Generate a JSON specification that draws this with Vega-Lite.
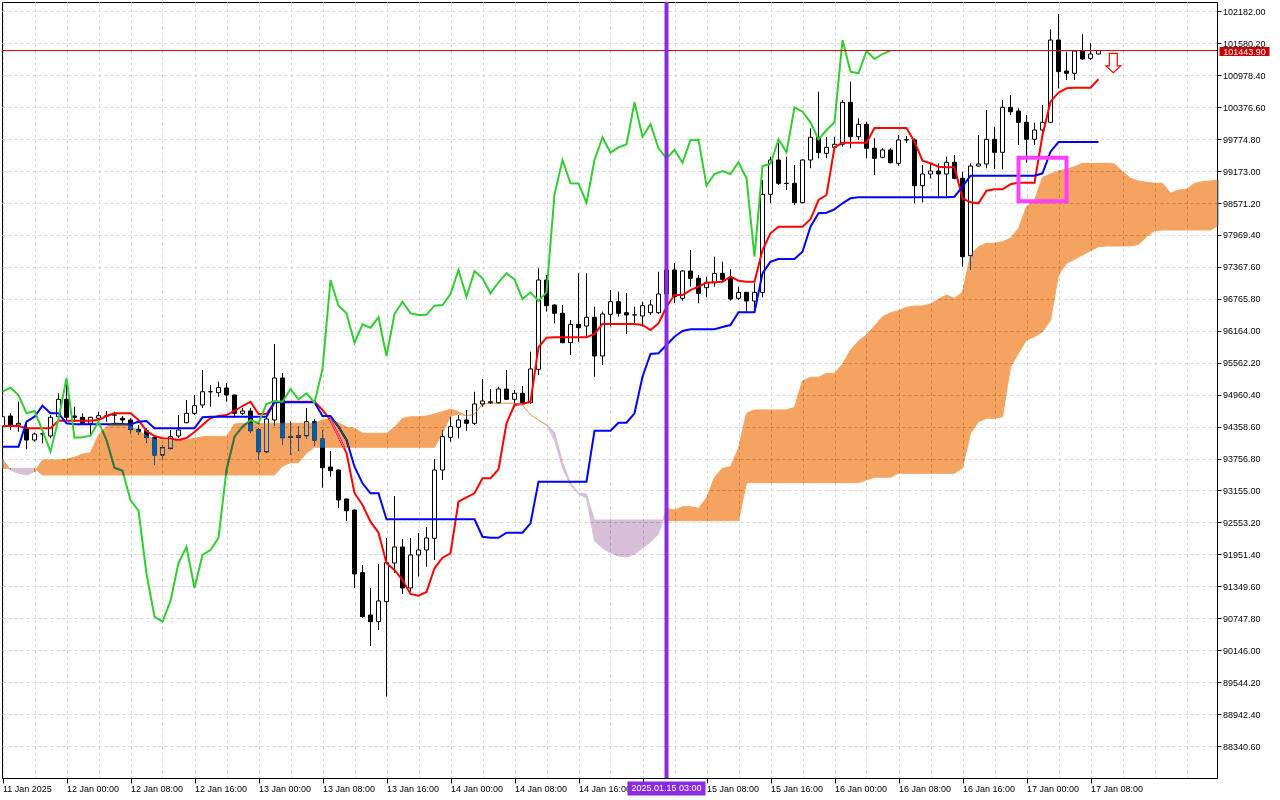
{
  "$schema": "https://vega.github.io/schema/vega-lite/v6.json",
  "width": 1215,
  "height": 776,
  "autosize": {"type": "none"},
  "padding": {"left": 2, "top": 2, "right": 63, "bottom": 22},
  "background": "white",
  "config": {
    "view": {"stroke": "black", "strokeWidth": 1},
    "axis": {"labelFont": "Liberation Sans"}
  },
  "resolve": {"axis": {"x": "independent", "y": "independent"}},
  "datasets": {
    "bars": [
      {"t":"2025-01-11T16:00","open":94357,"high":94634,"low":94295,"close":94545,"tenkan":94370,"kijun":93980},
      {"t":"2025-01-11T17:00","open":94558,"high":94609,"low":94295,"close":94389,"tenkan":94370,"kijun":93980},
      {"t":"2025-01-11T18:00","open":94389,"high":94828,"low":94263,"close":94421,"tenkan":94370,"kijun":93980},
      {"t":"2025-01-11T19:00","open":94327,"high":94421,"low":93931,"close":94106,"tenkan":94327,"kijun":94451},
      {"t":"2025-01-11T20:00","open":94106,"high":94244,"low":94074,"close":94219,"tenkan":94327,"kijun":94545},
      {"t":"2025-01-11T21:00","open":94219,"high":94263,"low":94044,"close":94225,"tenkan":94327,"kijun":94753},
      {"t":"2025-01-11T22:00","open":94182,"high":94577,"low":94138,"close":94534,"tenkan":94327,"kijun":94609},
      {"t":"2025-01-11T23:00","open":94545,"high":94986,"low":94483,"close":94873,"tenkan":94470,"kijun":94609},
      {"t":"2025-01-12T00:00","open":94873,"high":95269,"low":94483,"close":94534,"tenkan":94470,"kijun":94421},
      {"t":"2025-01-12T01:00","open":94558,"high":94734,"low":94451,"close":94534,"tenkan":94470,"kijun":94402},
      {"t":"2025-01-12T02:00","open":94534,"high":94609,"low":94389,"close":94421,"tenkan":94470,"kijun":94402},
      {"t":"2025-01-12T03:00","open":94421,"high":94545,"low":94219,"close":94534,"tenkan":94470,"kijun":94402},
      {"t":"2025-01-12T04:00","open":94515,"high":94640,"low":94421,"close":94564,"tenkan":94483,"kijun":94402},
      {"t":"2025-01-12T05:00","open":94558,"high":94653,"low":94451,"close":94560,"tenkan":94558,"kijun":94402},
      {"t":"2025-01-12T06:00","open":94577,"high":94640,"low":94421,"close":94575,"tenkan":94609,"kijun":94402},
      {"t":"2025-01-12T07:00","open":94515,"high":94558,"low":94389,"close":94483,"tenkan":94609,"kijun":94402},
      {"t":"2025-01-12T08:00","open":94483,"high":94515,"low":94219,"close":94308,"tenkan":94609,"kijun":94402},
      {"t":"2025-01-12T09:00","open":94308,"high":94389,"low":94201,"close":94263,"tenkan":94483,"kijun":94451},
      {"t":"2025-01-12T10:00","open":94282,"high":94327,"low":94056,"close":94157,"tenkan":94276,"kijun":94464},
      {"t":"2025-01-12T11:00","open":94150,"high":94160,"low":93635,"close":93824,"tenkan":94182,"kijun":94327},
      {"t":"2025-01-12T12:00","open":93824,"high":94012,"low":93743,"close":93961,"tenkan":94138,"kijun":94327},
      {"t":"2025-01-12T13:00","open":93950,"high":94295,"low":93931,"close":94169,"tenkan":94135,"kijun":94327},
      {"t":"2025-01-12T14:00","open":94182,"high":94577,"low":94138,"close":94295,"tenkan":94106,"kijun":94327},
      {"t":"2025-01-12T15:00","open":94432,"high":94860,"low":94421,"close":94609,"tenkan":94144,"kijun":94327},
      {"t":"2025-01-12T16:00","open":94609,"high":94954,"low":94577,"close":94753,"tenkan":94257,"kijun":94327},
      {"t":"2025-01-12T17:00","open":94766,"high":95425,"low":94709,"close":95016,"tenkan":94389,"kijun":94534},
      {"t":"2025-01-12T18:00","open":95016,"high":95143,"low":94734,"close":95016,"tenkan":94521,"kijun":94545},
      {"t":"2025-01-12T19:00","open":94998,"high":95205,"low":94922,"close":95092,"tenkan":94558,"kijun":94545},
      {"t":"2025-01-12T20:00","open":95086,"high":95180,"low":94828,"close":94954,"tenkan":94577,"kijun":94545},
      {"t":"2025-01-12T21:00","open":94954,"high":94960,"low":94521,"close":94609,"tenkan":94653,"kijun":94545},
      {"t":"2025-01-12T22:00","open":94609,"high":94709,"low":94577,"close":94653,"tenkan":94747,"kijun":94545},
      {"t":"2025-01-12T23:00","open":94653,"high":94709,"low":94238,"close":94282,"tenkan":94828,"kijun":94545},
      {"t":"2025-01-13T00:00","open":94295,"high":94332,"low":93730,"close":93886,"tenkan":94596,"kijun":94545},
      {"t":"2025-01-13T01:00","open":93886,"high":94540,"low":93870,"close":94502,"tenkan":94596,"kijun":94545},
      {"t":"2025-01-13T02:00","open":94483,"high":95915,"low":94370,"close":95275,"tenkan":94817,"kijun":94817},
      {"t":"2025-01-13T03:00","open":95275,"high":95369,"low":94012,"close":94150,"tenkan":94828,"kijun":94817},
      {"t":"2025-01-13T04:00","open":94163,"high":94451,"low":93824,"close":94160,"tenkan":94828,"kijun":94817},
      {"t":"2025-01-13T05:00","open":94157,"high":94370,"low":93905,"close":94187,"tenkan":94828,"kijun":94817},
      {"t":"2025-01-13T06:00","open":94187,"high":94709,"low":94125,"close":94451,"tenkan":94828,"kijun":94817},
      {"t":"2025-01-13T07:00","open":94451,"high":94502,"low":93993,"close":94106,"tenkan":94828,"kijun":94817},
      {"t":"2025-01-13T08:00","open":94125,"high":94295,"low":93208,"close":93584,"tenkan":94672,"kijun":94558},
      {"t":"2025-01-13T09:00","open":93598,"high":93899,"low":93415,"close":93528,"tenkan":94483,"kijun":94558},
      {"t":"2025-01-13T10:00","open":93541,"high":93550,"low":92825,"close":92976,"tenkan":94182,"kijun":94357},
      {"t":"2025-01-13T11:00","open":92995,"high":93000,"low":92580,"close":92774,"tenkan":93861,"kijun":94106},
      {"t":"2025-01-13T12:00","open":92787,"high":92795,"low":91318,"close":91582,"tenkan":93108,"kijun":93603},
      {"t":"2025-01-13T13:00","open":91606,"high":91751,"low":90752,"close":90777,"tenkan":92882,"kijun":93290},
      {"t":"2025-01-13T14:00","open":90809,"high":91318,"low":90225,"close":90683,"tenkan":92567,"kijun":93102},
      {"t":"2025-01-13T15:00","open":90683,"high":91770,"low":90526,"close":91073,"tenkan":92360,"kijun":93102},
      {"t":"2025-01-13T16:00","open":91060,"high":92260,"low":89270,"close":91794,"tenkan":91783,"kijun":92612},
      {"t":"2025-01-13T17:00","open":91789,"high":93051,"low":91600,"close":92090,"tenkan":91657,"kijun":92612},
      {"t":"2025-01-13T18:00","open":92090,"high":92241,"low":91205,"close":91318,"tenkan":91468,"kijun":92612},
      {"t":"2025-01-13T19:00","open":91318,"high":92260,"low":91248,"close":91940,"tenkan":91205,"kijun":92612},
      {"t":"2025-01-13T20:00","open":91940,"high":92354,"low":91531,"close":92034,"tenkan":91173,"kijun":92612},
      {"t":"2025-01-13T21:00","open":92034,"high":92467,"low":91719,"close":92260,"tenkan":91242,"kijun":92612},
      {"t":"2025-01-13T22:00","open":92254,"high":93748,"low":91845,"close":93541,"tenkan":91689,"kijun":92612},
      {"t":"2025-01-13T23:00","open":93541,"high":94295,"low":93353,"close":94169,"tenkan":91889,"kijun":92612},
      {"t":"2025-01-14T00:00","open":94157,"high":94545,"low":94074,"close":94357,"tenkan":91972,"kijun":92612},
      {"t":"2025-01-14T01:00","open":94346,"high":94577,"low":94138,"close":94483,"tenkan":92944,"kijun":92612},
      {"t":"2025-01-14T02:00","open":94483,"high":94672,"low":94282,"close":94421,"tenkan":93027,"kijun":92612},
      {"t":"2025-01-14T03:00","open":94421,"high":95016,"low":94389,"close":94785,"tenkan":93102,"kijun":92612},
      {"t":"2025-01-14T04:00","open":94785,"high":95256,"low":94734,"close":94841,"tenkan":93385,"kijun":92284},
      {"t":"2025-01-14T05:00","open":94809,"high":95067,"low":94785,"close":94828,"tenkan":93385,"kijun":92265},
      {"t":"2025-01-14T06:00","open":94809,"high":95111,"low":94785,"close":95067,"tenkan":93554,"kijun":92265},
      {"t":"2025-01-14T07:00","open":95067,"high":95425,"low":94860,"close":94873,"tenkan":94421,"kijun":92360},
      {"t":"2025-01-14T08:00","open":94873,"high":95048,"low":94798,"close":94986,"tenkan":94766,"kijun":92360},
      {"t":"2025-01-14T09:00","open":94986,"high":95124,"low":94798,"close":94809,"tenkan":94785,"kijun":92360},
      {"t":"2025-01-14T10:00","open":94809,"high":95770,"low":94785,"close":95444,"tenkan":94828,"kijun":92537},
      {"t":"2025-01-14T11:00","open":95438,"high":97341,"low":95331,"close":97121,"tenkan":95853,"kijun":93321},
      {"t":"2025-01-14T12:00","open":97121,"high":97215,"low":96524,"close":96637,"tenkan":96034,"kijun":93321},
      {"t":"2025-01-14T13:00","open":96650,"high":96660,"low":96305,"close":96494,"tenkan":96041,"kijun":93321},
      {"t":"2025-01-14T14:00","open":96494,"high":96650,"low":95928,"close":95940,"tenkan":96041,"kijun":93321},
      {"t":"2025-01-14T15:00","open":95940,"high":96367,"low":95708,"close":96286,"tenkan":96041,"kijun":93321},
      {"t":"2025-01-14T16:00","open":96286,"high":97247,"low":95959,"close":96222,"tenkan":96041,"kijun":93321},
      {"t":"2025-01-14T17:00","open":96254,"high":97247,"low":96053,"close":96418,"tenkan":96041,"kijun":93321},
      {"t":"2025-01-14T18:00","open":96418,"high":96618,"low":95299,"close":95689,"tenkan":96104,"kijun":94282},
      {"t":"2025-01-14T19:00","open":95689,"high":96524,"low":95520,"close":96480,"tenkan":96292,"kijun":94282},
      {"t":"2025-01-14T20:00","open":96475,"high":96933,"low":96241,"close":96712,"tenkan":96292,"kijun":94282},
      {"t":"2025-01-14T21:00","open":96712,"high":96901,"low":96430,"close":96494,"tenkan":96292,"kijun":94432},
      {"t":"2025-01-14T22:00","open":96505,"high":96876,"low":96104,"close":96462,"tenkan":96292,"kijun":94432},
      {"t":"2025-01-14T23:00","open":96462,"high":96618,"low":96273,"close":96465,"tenkan":96292,"kijun":94609},
      {"t":"2025-01-15T00:00","open":96443,"high":96712,"low":96241,"close":96637,"tenkan":96273,"kijun":95299},
      {"t":"2025-01-15T01:00","open":96505,"high":96744,"low":96462,"close":96650,"tenkan":96179,"kijun":95727},
      {"t":"2025-01-15T02:00","open":96505,"high":97277,"low":96480,"close":96857,"tenkan":96305,"kijun":95740},
      {"t":"2025-01-15T03:00","open":96857,"high":97385,"low":96782,"close":97310,"tenkan":96618,"kijun":95896},
      {"t":"2025-01-15T04:00","open":97310,"high":97441,"low":96688,"close":96806,"tenkan":96838,"kijun":96053},
      {"t":"2025-01-15T05:00","open":96776,"high":97305,"low":96731,"close":97291,"tenkan":96838,"kijun":96160},
      {"t":"2025-01-15T06:00","open":97291,"high":97686,"low":96995,"close":97153,"tenkan":96932,"kijun":96192},
      {"t":"2025-01-15T07:00","open":97153,"high":97215,"low":96682,"close":96870,"tenkan":96995,"kijun":96192},
      {"t":"2025-01-15T08:00","open":96976,"high":97183,"low":96795,"close":97078,"tenkan":97070,"kijun":96192},
      {"t":"2025-01-15T09:00","open":97070,"high":97560,"low":96995,"close":97247,"tenkan":97078,"kijun":96192},
      {"t":"2025-01-15T10:00","open":97247,"high":97466,"low":97089,"close":97134,"tenkan":97089,"kijun":96236},
      {"t":"2025-01-15T11:00","open":97153,"high":97323,"low":96731,"close":96763,"tenkan":97183,"kijun":96273},
      {"t":"2025-01-15T12:00","open":96776,"high":96995,"low":96744,"close":96889,"tenkan":97108,"kijun":96512},
      {"t":"2025-01-15T13:00","open":96889,"high":96895,"low":96494,"close":96725,"tenkan":97089,"kijun":96512},
      {"t":"2025-01-15T14:00","open":96725,"high":97059,"low":96524,"close":96889,"tenkan":97089,"kijun":96512},
      {"t":"2025-01-15T15:00","open":96889,"high":99005,"low":96795,"close":98736,"tenkan":97686,"kijun":97247},
      {"t":"2025-01-15T16:00","open":98736,"high":99444,"low":98566,"close":99382,"tenkan":98001,"kijun":97466},
      {"t":"2025-01-15T17:00","open":99382,"high":99697,"low":98911,"close":98943,"tenkan":98125,"kijun":97517},
      {"t":"2025-01-15T18:00","open":98943,"high":99444,"low":98817,"close":98940,"tenkan":98125,"kijun":97517},
      {"t":"2025-01-15T19:00","open":98943,"high":99288,"low":98534,"close":98578,"tenkan":98125,"kijun":97517},
      {"t":"2025-01-15T20:00","open":98578,"high":99395,"low":98566,"close":99382,"tenkan":98125,"kijun":97654},
      {"t":"2025-01-15T21:00","open":99382,"high":99979,"low":99226,"close":99810,"tenkan":98265,"kijun":98125},
      {"t":"2025-01-15T22:00","open":99810,"high":100669,"low":99414,"close":99520,"tenkan":98628,"kijun":98378},
      {"t":"2025-01-15T23:00","open":99508,"high":99821,"low":99414,"close":99621,"tenkan":98723,"kijun":98389},
      {"t":"2025-01-16T00:00","open":99621,"high":99821,"low":99571,"close":99678,"tenkan":99621,"kijun":98453},
      {"t":"2025-01-16T01:00","open":99678,"high":100513,"low":99633,"close":100469,"tenkan":99708,"kijun":98566},
      {"t":"2025-01-16T02:00","open":100469,"high":100857,"low":99603,"close":99821,"tenkan":99708,"kijun":98660},
      {"t":"2025-01-16T03:00","open":99821,"high":100168,"low":99759,"close":100055,"tenkan":99708,"kijun":98679},
      {"t":"2025-01-16T04:00","open":100055,"high":100104,"low":99414,"close":99603,"tenkan":99708,"kijun":98679},
      {"t":"2025-01-16T05:00","open":99603,"high":99791,"low":99099,"close":99414,"tenkan":99985,"kijun":98679},
      {"t":"2025-01-16T06:00","open":99433,"high":99603,"low":99414,"close":99571,"tenkan":99985,"kijun":98679},
      {"t":"2025-01-16T07:00","open":99571,"high":99603,"low":99320,"close":99331,"tenkan":99985,"kijun":98679},
      {"t":"2025-01-16T08:00","open":99320,"high":99853,"low":99275,"close":99759,"tenkan":99985,"kijun":98679},
      {"t":"2025-01-16T09:00","open":99759,"high":99834,"low":99702,"close":99765,"tenkan":99985,"kijun":98679},
      {"t":"2025-01-16T10:00","open":99759,"high":99791,"low":98566,"close":98898,"tenkan":99727,"kijun":98679},
      {"t":"2025-01-16T11:00","open":98898,"high":99288,"low":98585,"close":99118,"tenkan":99369,"kijun":98679},
      {"t":"2025-01-16T12:00","open":99118,"high":99320,"low":99037,"close":99175,"tenkan":99320,"kijun":98679},
      {"t":"2025-01-16T13:00","open":99175,"high":99320,"low":98691,"close":99118,"tenkan":99256,"kijun":98679},
      {"t":"2025-01-16T14:00","open":99118,"high":99444,"low":98691,"close":99339,"tenkan":99245,"kijun":98679},
      {"t":"2025-01-16T15:00","open":99339,"high":99476,"low":99018,"close":99037,"tenkan":99245,"kijun":98691},
      {"t":"2025-01-16T16:00","open":99037,"high":99162,"low":97372,"close":97560,"tenkan":98660,"kijun":98879},
      {"t":"2025-01-16T17:00","open":97579,"high":99320,"low":97310,"close":99269,"tenkan":98585,"kijun":99086},
      {"t":"2025-01-16T18:00","open":99269,"high":99853,"low":99256,"close":99307,"tenkan":98566,"kijun":99086},
      {"t":"2025-01-16T19:00","open":99307,"high":100324,"low":99226,"close":99772,"tenkan":98804,"kijun":99086},
      {"t":"2025-01-16T20:00","open":99772,"high":100009,"low":99213,"close":99527,"tenkan":98830,"kijun":99086},
      {"t":"2025-01-16T21:00","open":99527,"high":100513,"low":99207,"close":100375,"tenkan":98830,"kijun":99086},
      {"t":"2025-01-16T22:00","open":100375,"high":100607,"low":100230,"close":100292,"tenkan":98924,"kijun":99086},
      {"t":"2025-01-16T23:00","open":100305,"high":100356,"low":99665,"close":100092,"tenkan":98954,"kijun":99086},
      {"t":"2025-01-17T00:00","open":100092,"high":100230,"low":99331,"close":99772,"tenkan":98954,"kijun":99086},
      {"t":"2025-01-17T01:00","open":99772,"high":100085,"low":99665,"close":99947,"tenkan":98954,"kijun":99086},
      {"t":"2025-01-17T02:00","open":99947,"high":100418,"low":99915,"close":100092,"tenkan":99853,"kijun":99131},
      {"t":"2025-01-17T03:00","open":100092,"high":101845,"low":100074,"close":101643,"tenkan":100481,"kijun":99539},
      {"t":"2025-01-17T04:00","open":101643,"high":102133,"low":100733,"close":101046,"tenkan":100650,"kijun":99721},
      {"t":"2025-01-17T05:00","open":101059,"high":101423,"low":100889,"close":101016,"tenkan":100733,"kijun":99721},
      {"t":"2025-01-17T06:00","open":101016,"high":101455,"low":100889,"close":101436,"tenkan":100744,"kijun":99721},
      {"t":"2025-01-17T07:00","open":101436,"high":101751,"low":101266,"close":101285,"tenkan":100744,"kijun":99721},
      {"t":"2025-01-17T08:00","open":101298,"high":101581,"low":101266,"close":101379,"tenkan":100744,"kijun":99721},
      {"t":"2025-01-17T09:00","open":101379,"high":101455,"low":101370,"close":101443.9,"tenkan":100903,"kijun":99721}
    ],
    "chikou": [
      {"t":"2025-01-11T16:00","chikou":95016},{"t":"2025-01-11T17:00","chikou":95092},{"t":"2025-01-11T18:00","chikou":94954},
      {"t":"2025-01-11T19:00","chikou":94609},{"t":"2025-01-11T20:00","chikou":94653},{"t":"2025-01-11T21:00","chikou":94282},
      {"t":"2025-01-11T22:00","chikou":93886},{"t":"2025-01-11T23:00","chikou":94502},{"t":"2025-01-12T00:00","chikou":95275},
      {"t":"2025-01-12T01:00","chikou":94150},{"t":"2025-01-12T02:00","chikou":94160},{"t":"2025-01-12T03:00","chikou":94187},
      {"t":"2025-01-12T04:00","chikou":94451},{"t":"2025-01-12T05:00","chikou":94106},{"t":"2025-01-12T06:00","chikou":93584},
      {"t":"2025-01-12T07:00","chikou":93528},{"t":"2025-01-12T08:00","chikou":92976},{"t":"2025-01-12T09:00","chikou":92774},
      {"t":"2025-01-12T10:00","chikou":91582},{"t":"2025-01-12T11:00","chikou":90777},{"t":"2025-01-12T12:00","chikou":90683},
      {"t":"2025-01-12T13:00","chikou":91073},{"t":"2025-01-12T14:00","chikou":91794},{"t":"2025-01-12T15:00","chikou":92090},
      {"t":"2025-01-12T16:00","chikou":91318},{"t":"2025-01-12T17:00","chikou":91940},{"t":"2025-01-12T18:00","chikou":92034},
      {"t":"2025-01-12T19:00","chikou":92260},{"t":"2025-01-12T20:00","chikou":93541},{"t":"2025-01-12T21:00","chikou":94169},
      {"t":"2025-01-12T22:00","chikou":94357},{"t":"2025-01-12T23:00","chikou":94483},{"t":"2025-01-13T00:00","chikou":94421},
      {"t":"2025-01-13T01:00","chikou":94785},{"t":"2025-01-13T02:00","chikou":94841},{"t":"2025-01-13T03:00","chikou":94828},
      {"t":"2025-01-13T04:00","chikou":95067},{"t":"2025-01-13T05:00","chikou":94873},{"t":"2025-01-13T06:00","chikou":94986},
      {"t":"2025-01-13T07:00","chikou":94809},{"t":"2025-01-13T08:00","chikou":95444},{"t":"2025-01-13T09:00","chikou":97121},
      {"t":"2025-01-13T10:00","chikou":96637},{"t":"2025-01-13T11:00","chikou":96494},{"t":"2025-01-13T12:00","chikou":95940},
      {"t":"2025-01-13T13:00","chikou":96286},{"t":"2025-01-13T14:00","chikou":96222},{"t":"2025-01-13T15:00","chikou":96418},
      {"t":"2025-01-13T16:00","chikou":95689},{"t":"2025-01-13T17:00","chikou":96480},{"t":"2025-01-13T18:00","chikou":96712},
      {"t":"2025-01-13T19:00","chikou":96494},{"t":"2025-01-13T20:00","chikou":96462},{"t":"2025-01-13T21:00","chikou":96465},
      {"t":"2025-01-13T22:00","chikou":96637},{"t":"2025-01-13T23:00","chikou":96650},{"t":"2025-01-14T00:00","chikou":96857},
      {"t":"2025-01-14T01:00","chikou":97310},{"t":"2025-01-14T02:00","chikou":96806},{"t":"2025-01-14T03:00","chikou":97291},
      {"t":"2025-01-14T04:00","chikou":97153},{"t":"2025-01-14T05:00","chikou":96870},{"t":"2025-01-14T06:00","chikou":97078},
      {"t":"2025-01-14T07:00","chikou":97247},{"t":"2025-01-14T08:00","chikou":97134},{"t":"2025-01-14T09:00","chikou":96763},
      {"t":"2025-01-14T10:00","chikou":96889},{"t":"2025-01-14T11:00","chikou":96725},{"t":"2025-01-14T12:00","chikou":96889},
      {"t":"2025-01-14T13:00","chikou":98736},{"t":"2025-01-14T14:00","chikou":99382},{"t":"2025-01-14T15:00","chikou":98943},
      {"t":"2025-01-14T16:00","chikou":98940},{"t":"2025-01-14T17:00","chikou":98578},{"t":"2025-01-14T18:00","chikou":99382},
      {"t":"2025-01-14T19:00","chikou":99810},{"t":"2025-01-14T20:00","chikou":99520},{"t":"2025-01-14T21:00","chikou":99621},
      {"t":"2025-01-14T22:00","chikou":99678},{"t":"2025-01-14T23:00","chikou":100469},{"t":"2025-01-15T00:00","chikou":99821},
      {"t":"2025-01-15T01:00","chikou":100055},{"t":"2025-01-15T02:00","chikou":99603},{"t":"2025-01-15T03:00","chikou":99414},
      {"t":"2025-01-15T04:00","chikou":99571},{"t":"2025-01-15T05:00","chikou":99331},{"t":"2025-01-15T06:00","chikou":99759},
      {"t":"2025-01-15T07:00","chikou":99765},{"t":"2025-01-15T08:00","chikou":98898},{"t":"2025-01-15T09:00","chikou":99118},
      {"t":"2025-01-15T10:00","chikou":99175},{"t":"2025-01-15T11:00","chikou":99118},{"t":"2025-01-15T12:00","chikou":99339},
      {"t":"2025-01-15T13:00","chikou":99037},{"t":"2025-01-15T14:00","chikou":97560},{"t":"2025-01-15T15:00","chikou":99269},
      {"t":"2025-01-15T16:00","chikou":99307},{"t":"2025-01-15T17:00","chikou":99772},{"t":"2025-01-15T18:00","chikou":99527},
      {"t":"2025-01-15T19:00","chikou":100375},{"t":"2025-01-15T20:00","chikou":100292},{"t":"2025-01-15T21:00","chikou":100092},
      {"t":"2025-01-15T22:00","chikou":99772},{"t":"2025-01-15T23:00","chikou":99947},{"t":"2025-01-16T00:00","chikou":100092},
      {"t":"2025-01-16T01:00","chikou":101643},{"t":"2025-01-16T02:00","chikou":101046},{"t":"2025-01-16T03:00","chikou":101016},
      {"t":"2025-01-16T04:00","chikou":101436},{"t":"2025-01-16T05:00","chikou":101285},{"t":"2025-01-16T06:00","chikou":101379},
      {"t":"2025-01-16T07:00","chikou":101443.9}
    ],
    "cloud": [
      {"t":"2025-01-11T16:00","spanA":93743,"spanB":93573,"seg":1,"kind":"up"},
      {"t":"2025-01-11T17:00","spanA":93541,"spanB":93573,"seg":1,"kind":"up"},
      {"t":"2025-01-11T17:00","spanA":93541,"spanB":93573,"seg":2,"kind":"down"},
      {"t":"2025-01-11T18:00","spanA":93479,"spanB":93573,"seg":2,"kind":"down"},
      {"t":"2025-01-11T19:00","spanA":93447,"spanB":93573,"seg":2,"kind":"down"},
      {"t":"2025-01-11T20:00","spanA":93509,"spanB":93573,"seg":2,"kind":"down"},
      {"t":"2025-01-11T20:00","spanA":93509,"spanB":93573,"seg":3,"kind":"up"},
      {"t":"2025-01-11T21:00","spanA":93730,"spanB":93447,"seg":3,"kind":"up"},
      {"t":"2025-01-11T22:00","spanA":93730,"spanB":93447,"seg":3,"kind":"up"},
      {"t":"2025-01-11T23:00","spanA":93730,"spanB":93447,"seg":3,"kind":"up"},
      {"t":"2025-01-12T00:00","spanA":93743,"spanB":93447,"seg":3,"kind":"up"},
      {"t":"2025-01-12T01:00","spanA":93780,"spanB":93447,"seg":3,"kind":"up"},
      {"t":"2025-01-12T02:00","spanA":93843,"spanB":93447,"seg":3,"kind":"up"},
      {"t":"2025-01-12T03:00","spanA":93867,"spanB":93447,"seg":3,"kind":"up"},
      {"t":"2025-01-12T04:00","spanA":94201,"spanB":93447,"seg":3,"kind":"up"},
      {"t":"2025-01-12T05:00","spanA":94357,"spanB":93447,"seg":3,"kind":"up"},
      {"t":"2025-01-12T06:00","spanA":94432,"spanB":93447,"seg":3,"kind":"up"},
      {"t":"2025-01-12T07:00","spanA":94421,"spanB":93447,"seg":3,"kind":"up"},
      {"t":"2025-01-12T08:00","spanA":94370,"spanB":93447,"seg":3,"kind":"up"},
      {"t":"2025-01-12T09:00","spanA":94282,"spanB":93447,"seg":3,"kind":"up"},
      {"t":"2025-01-12T10:00","spanA":94182,"spanB":93447,"seg":3,"kind":"up"},
      {"t":"2025-01-12T11:00","spanA":94120,"spanB":93447,"seg":3,"kind":"up"},
      {"t":"2025-01-12T12:00","spanA":94106,"spanB":93447,"seg":3,"kind":"up"},
      {"t":"2025-01-12T13:00","spanA":94093,"spanB":93447,"seg":3,"kind":"up"},
      {"t":"2025-01-12T14:00","spanA":94093,"spanB":93447,"seg":3,"kind":"up"},
      {"t":"2025-01-12T15:00","spanA":94106,"spanB":93447,"seg":3,"kind":"up"},
      {"t":"2025-01-12T16:00","spanA":94138,"spanB":93447,"seg":3,"kind":"up"},
      {"t":"2025-01-12T17:00","spanA":94169,"spanB":93447,"seg":3,"kind":"up"},
      {"t":"2025-01-12T18:00","spanA":94176,"spanB":93447,"seg":3,"kind":"up"},
      {"t":"2025-01-12T19:00","spanA":94176,"spanB":93447,"seg":3,"kind":"up"},
      {"t":"2025-01-12T20:00","spanA":94172,"spanB":93447,"seg":3,"kind":"up"},
      {"t":"2025-01-12T21:00","spanA":94408,"spanB":93447,"seg":3,"kind":"up"},
      {"t":"2025-01-12T22:00","spanA":94421,"spanB":93447,"seg":3,"kind":"up"},
      {"t":"2025-01-12T23:00","spanA":94421,"spanB":93447,"seg":3,"kind":"up"},
      {"t":"2025-01-13T00:00","spanA":94421,"spanB":93447,"seg":3,"kind":"up"},
      {"t":"2025-01-13T01:00","spanA":94421,"spanB":93447,"seg":3,"kind":"up"},
      {"t":"2025-01-13T02:00","spanA":94421,"spanB":93447,"seg":3,"kind":"up"},
      {"t":"2025-01-13T03:00","spanA":94421,"spanB":93616,"seg":3,"kind":"up"},
      {"t":"2025-01-13T04:00","spanA":94421,"spanB":93679,"seg":3,"kind":"up"},
      {"t":"2025-01-13T05:00","spanA":94421,"spanB":93679,"seg":3,"kind":"up"},
      {"t":"2025-01-13T06:00","spanA":94421,"spanB":93861,"seg":3,"kind":"up"},
      {"t":"2025-01-13T07:00","spanA":94421,"spanB":93969,"seg":3,"kind":"up"},
      {"t":"2025-01-13T08:00","spanA":94483,"spanB":93969,"seg":3,"kind":"up"},
      {"t":"2025-01-13T09:00","spanA":94496,"spanB":93969,"seg":3,"kind":"up"},
      {"t":"2025-01-13T10:00","spanA":94427,"spanB":93969,"seg":3,"kind":"up"},
      {"t":"2025-01-13T11:00","spanA":94351,"spanB":93969,"seg":3,"kind":"up"},
      {"t":"2025-01-13T12:00","spanA":94327,"spanB":93969,"seg":3,"kind":"up"},
      {"t":"2025-01-13T13:00","spanA":94233,"spanB":93969,"seg":3,"kind":"up"},
      {"t":"2025-01-13T14:00","spanA":94233,"spanB":93969,"seg":3,"kind":"up"},
      {"t":"2025-01-13T15:00","spanA":94233,"spanB":93969,"seg":3,"kind":"up"},
      {"t":"2025-01-13T16:00","spanA":94233,"spanB":93969,"seg":3,"kind":"up"},
      {"t":"2025-01-13T17:00","spanA":94346,"spanB":93969,"seg":3,"kind":"up"},
      {"t":"2025-01-13T18:00","spanA":94515,"spanB":93969,"seg":3,"kind":"up"},
      {"t":"2025-01-13T19:00","spanA":94545,"spanB":93969,"seg":3,"kind":"up"},
      {"t":"2025-01-13T20:00","spanA":94545,"spanB":93969,"seg":3,"kind":"up"},
      {"t":"2025-01-13T21:00","spanA":94558,"spanB":93969,"seg":3,"kind":"up"},
      {"t":"2025-01-13T22:00","spanA":94596,"spanB":93969,"seg":3,"kind":"up"},
      {"t":"2025-01-13T23:00","spanA":94640,"spanB":94233,"seg":3,"kind":"up"},
      {"t":"2025-01-14T00:00","spanA":94685,"spanB":94558,"seg":3,"kind":"up"},
      {"t":"2025-01-14T01:00","spanA":94640,"spanB":94596,"seg":3,"kind":"up"},
      {"t":"2025-01-14T02:00","spanA":94558,"spanB":94558,"seg":3,"kind":"up"},
      {"t":"2025-01-14T03:00","spanA":94596,"spanB":94596,"seg":3,"kind":"up"},
      {"t":"2025-01-14T04:00","spanA":94785,"spanB":94785,"seg":3,"kind":"up"},
      {"t":"2025-01-14T05:00","spanA":94798,"spanB":94798,"seg":3,"kind":"up"},
      {"t":"2025-01-14T06:00","spanA":94798,"spanB":94798,"seg":3,"kind":"up"},
      {"t":"2025-01-14T07:00","spanA":94798,"spanB":94798,"seg":3,"kind":"up"},
      {"t":"2025-01-14T08:00","spanA":94798,"spanB":94798,"seg":3,"kind":"up"},
      {"t":"2025-01-14T09:00","spanA":94766,"spanB":94766,"seg":3,"kind":"up"},
      {"t":"2025-01-14T10:00","spanA":94577,"spanB":94577,"seg":3,"kind":"up"},
      {"t":"2025-01-14T11:00","spanA":94483,"spanB":94483,"seg":3,"kind":"up"},
      {"t":"2025-01-14T12:00","spanA":94389,"spanB":94389,"seg":3,"kind":"up"},
      {"t":"2025-01-14T12:00","spanA":94389,"spanB":94389,"seg":4,"kind":"down"},
      {"t":"2025-01-14T13:00","spanA":94106,"spanB":94257,"seg":4,"kind":"down"},
      {"t":"2025-01-14T14:00","spanA":93579,"spanB":93692,"seg":4,"kind":"down"},
      {"t":"2025-01-14T15:00","spanA":93258,"spanB":93296,"seg":4,"kind":"down"},
      {"t":"2025-01-14T16:00","spanA":93089,"spanB":93108,"seg":4,"kind":"down"},
      {"t":"2025-01-14T17:00","spanA":93014,"spanB":93089,"seg":4,"kind":"down"},
      {"t":"2025-01-14T18:00","spanA":92203,"spanB":92599,"seg":4,"kind":"down"},
      {"t":"2025-01-14T19:00","spanA":92071,"spanB":92599,"seg":4,"kind":"down"},
      {"t":"2025-01-14T20:00","spanA":91977,"spanB":92599,"seg":4,"kind":"down"},
      {"t":"2025-01-14T21:00","spanA":91921,"spanB":92599,"seg":4,"kind":"down"},
      {"t":"2025-01-14T22:00","spanA":91902,"spanB":92599,"seg":4,"kind":"down"},
      {"t":"2025-01-14T23:00","spanA":91958,"spanB":92599,"seg":4,"kind":"down"},
      {"t":"2025-01-15T00:00","spanA":92071,"spanB":92599,"seg":4,"kind":"down"},
      {"t":"2025-01-15T01:00","spanA":92184,"spanB":92599,"seg":4,"kind":"down"},
      {"t":"2025-01-15T02:00","spanA":92335,"spanB":92599,"seg":4,"kind":"down"},
      {"t":"2025-01-15T03:00","spanA":92819,"spanB":92586,"seg":4,"kind":"down"},
      {"t":"2025-01-15T03:00","spanA":92819,"spanB":92586,"seg":5,"kind":"up"},
      {"t":"2025-01-15T04:00","spanA":92787,"spanB":92586,"seg":5,"kind":"up"},
      {"t":"2025-01-15T05:00","spanA":92850,"spanB":92586,"seg":5,"kind":"up"},
      {"t":"2025-01-15T06:00","spanA":92850,"spanB":92586,"seg":5,"kind":"up"},
      {"t":"2025-01-15T07:00","spanA":92819,"spanB":92586,"seg":5,"kind":"up"},
      {"t":"2025-01-15T08:00","spanA":93014,"spanB":92586,"seg":5,"kind":"up"},
      {"t":"2025-01-15T09:00","spanA":93404,"spanB":92586,"seg":5,"kind":"up"},
      {"t":"2025-01-15T10:00","spanA":93573,"spanB":92586,"seg":5,"kind":"up"},
      {"t":"2025-01-15T11:00","spanA":93603,"spanB":92586,"seg":5,"kind":"up"},
      {"t":"2025-01-15T12:00","spanA":93950,"spanB":92586,"seg":5,"kind":"up"},
      {"t":"2025-01-15T13:00","spanA":94609,"spanB":93302,"seg":5,"kind":"up"},
      {"t":"2025-01-15T14:00","spanA":94672,"spanB":93302,"seg":5,"kind":"up"},
      {"t":"2025-01-15T15:00","spanA":94672,"spanB":93302,"seg":5,"kind":"up"},
      {"t":"2025-01-15T16:00","spanA":94672,"spanB":93302,"seg":5,"kind":"up"},
      {"t":"2025-01-15T17:00","spanA":94672,"spanB":93302,"seg":5,"kind":"up"},
      {"t":"2025-01-15T18:00","spanA":94672,"spanB":93302,"seg":5,"kind":"up"},
      {"t":"2025-01-15T19:00","spanA":94722,"spanB":93302,"seg":5,"kind":"up"},
      {"t":"2025-01-15T20:00","spanA":95224,"spanB":93302,"seg":5,"kind":"up"},
      {"t":"2025-01-15T21:00","spanA":95288,"spanB":93302,"seg":5,"kind":"up"},
      {"t":"2025-01-15T22:00","spanA":95288,"spanB":93302,"seg":5,"kind":"up"},
      {"t":"2025-01-15T23:00","spanA":95363,"spanB":93302,"seg":5,"kind":"up"},
      {"t":"2025-01-16T00:00","spanA":95363,"spanB":93302,"seg":5,"kind":"up"},
      {"t":"2025-01-16T01:00","spanA":95538,"spanB":93302,"seg":5,"kind":"up"},
      {"t":"2025-01-16T02:00","spanA":95802,"spanB":93302,"seg":5,"kind":"up"},
      {"t":"2025-01-16T03:00","spanA":95972,"spanB":93302,"seg":5,"kind":"up"},
      {"t":"2025-01-16T04:00","spanA":96085,"spanB":93353,"seg":5,"kind":"up"},
      {"t":"2025-01-16T05:00","spanA":96254,"spanB":93404,"seg":5,"kind":"up"},
      {"t":"2025-01-16T06:00","spanA":96430,"spanB":93404,"seg":5,"kind":"up"},
      {"t":"2025-01-16T07:00","spanA":96505,"spanB":93404,"seg":5,"kind":"up"},
      {"t":"2025-01-16T08:00","spanA":96543,"spanB":93479,"seg":5,"kind":"up"},
      {"t":"2025-01-16T09:00","spanA":96607,"spanB":93479,"seg":5,"kind":"up"},
      {"t":"2025-01-16T10:00","spanA":96631,"spanB":93479,"seg":5,"kind":"up"},
      {"t":"2025-01-16T11:00","spanA":96631,"spanB":93479,"seg":5,"kind":"up"},
      {"t":"2025-01-16T12:00","spanA":96669,"spanB":93479,"seg":5,"kind":"up"},
      {"t":"2025-01-16T13:00","spanA":96757,"spanB":93479,"seg":5,"kind":"up"},
      {"t":"2025-01-16T14:00","spanA":96838,"spanB":93479,"seg":5,"kind":"up"},
      {"t":"2025-01-16T15:00","spanA":96776,"spanB":93479,"seg":5,"kind":"up"},
      {"t":"2025-01-16T16:00","spanA":96895,"spanB":93579,"seg":5,"kind":"up"},
      {"t":"2025-01-16T17:00","spanA":97592,"spanB":94233,"seg":5,"kind":"up"},
      {"t":"2025-01-16T18:00","spanA":97749,"spanB":94451,"seg":5,"kind":"up"},
      {"t":"2025-01-16T19:00","spanA":97813,"spanB":94515,"seg":5,"kind":"up"},
      {"t":"2025-01-16T20:00","spanA":97813,"spanB":94515,"seg":5,"kind":"up"},
      {"t":"2025-01-16T21:00","spanA":97843,"spanB":94545,"seg":5,"kind":"up"},
      {"t":"2025-01-16T22:00","spanA":97907,"spanB":95487,"seg":5,"kind":"up"},
      {"t":"2025-01-16T23:00","spanA":98095,"spanB":95740,"seg":5,"kind":"up"},
      {"t":"2025-01-17T00:00","spanA":98502,"spanB":95991,"seg":5,"kind":"up"},
      {"t":"2025-01-17T01:00","spanA":98628,"spanB":96053,"seg":5,"kind":"up"},
      {"t":"2025-01-17T02:00","spanA":99056,"spanB":96147,"seg":5,"kind":"up"},
      {"t":"2025-01-17T03:00","spanA":99118,"spanB":96367,"seg":5,"kind":"up"},
      {"t":"2025-01-17T04:00","spanA":99175,"spanB":97215,"seg":5,"kind":"up"},
      {"t":"2025-01-17T05:00","spanA":99207,"spanB":97436,"seg":5,"kind":"up"},
      {"t":"2025-01-17T06:00","spanA":99256,"spanB":97511,"seg":5,"kind":"up"},
      {"t":"2025-01-17T07:00","spanA":99320,"spanB":97592,"seg":5,"kind":"up"},
      {"t":"2025-01-17T08:00","spanA":99320,"spanB":97673,"seg":5,"kind":"up"},
      {"t":"2025-01-17T09:00","spanA":99320,"spanB":97749,"seg":5,"kind":"up"},
      {"t":"2025-01-17T10:00","spanA":99320,"spanB":97762,"seg":5,"kind":"up"},
      {"t":"2025-01-17T11:00","spanA":99307,"spanB":97762,"seg":5,"kind":"up"},
      {"t":"2025-01-17T12:00","spanA":99162,"spanB":97762,"seg":5,"kind":"up"},
      {"t":"2025-01-17T13:00","spanA":99037,"spanB":97762,"seg":5,"kind":"up"},
      {"t":"2025-01-17T14:00","spanA":98986,"spanB":97794,"seg":5,"kind":"up"},
      {"t":"2025-01-17T15:00","spanA":98962,"spanB":97937,"seg":5,"kind":"up"},
      {"t":"2025-01-17T16:00","spanA":98943,"spanB":98050,"seg":5,"kind":"up"},
      {"t":"2025-01-17T17:00","spanA":98943,"spanB":98063,"seg":5,"kind":"up"},
      {"t":"2025-01-17T18:00","spanA":98755,"spanB":98063,"seg":5,"kind":"up"},
      {"t":"2025-01-17T19:00","spanA":98817,"spanB":98063,"seg":5,"kind":"up"},
      {"t":"2025-01-17T20:00","spanA":98830,"spanB":98063,"seg":5,"kind":"up"},
      {"t":"2025-01-17T21:00","spanA":98943,"spanB":98063,"seg":5,"kind":"up"},
      {"t":"2025-01-17T22:00","spanA":98973,"spanB":98063,"seg":5,"kind":"up"},
      {"t":"2025-01-17T23:00","spanA":98986,"spanB":98063,"seg":5,"kind":"up"},
      {"t":"2025-01-18T00:00","spanA":99005,"spanB":98157,"seg":5,"kind":"up"}
    ]
  },
  "layer": [
    {
      "data": {"name": "bars"},
      "mark": {"type": "rule", "color": "black", "strokeWidth": 1, "clip": true},
      "encoding": {
        "x": {
          "field": "t", "type": "temporal",
          "scale": {
            "domain": [
              {"year": 2025, "month": 1, "date": 11, "hours": 15, "minutes": 56, "seconds": 15},
              {"year": 2025, "month": 1, "date": 17, "hours": 23, "minutes": 48, "seconds": 45}
            ],
            "nice": false,
            "padding": 0
          },
          "axis": {
            "orient": "bottom",
            "title": null,
            "values": [
              {"year":2025,"month":1,"date":11,"hours":16},{"year":2025,"month":1,"date":11,"hours":20},
              {"year":2025,"month":1,"date":12,"hours":0},{"year":2025,"month":1,"date":12,"hours":4},{"year":2025,"month":1,"date":12,"hours":8},
              {"year":2025,"month":1,"date":12,"hours":12},{"year":2025,"month":1,"date":12,"hours":16},{"year":2025,"month":1,"date":12,"hours":20},
              {"year":2025,"month":1,"date":13,"hours":0},{"year":2025,"month":1,"date":13,"hours":4},{"year":2025,"month":1,"date":13,"hours":8},
              {"year":2025,"month":1,"date":13,"hours":12},{"year":2025,"month":1,"date":13,"hours":16},{"year":2025,"month":1,"date":13,"hours":20},
              {"year":2025,"month":1,"date":14,"hours":0},{"year":2025,"month":1,"date":14,"hours":4},{"year":2025,"month":1,"date":14,"hours":8},
              {"year":2025,"month":1,"date":14,"hours":12},{"year":2025,"month":1,"date":14,"hours":16},{"year":2025,"month":1,"date":14,"hours":20},
              {"year":2025,"month":1,"date":15,"hours":0},{"year":2025,"month":1,"date":15,"hours":4},{"year":2025,"month":1,"date":15,"hours":8},
              {"year":2025,"month":1,"date":15,"hours":12},{"year":2025,"month":1,"date":15,"hours":16},{"year":2025,"month":1,"date":15,"hours":20},
              {"year":2025,"month":1,"date":16,"hours":0},{"year":2025,"month":1,"date":16,"hours":4},{"year":2025,"month":1,"date":16,"hours":8},
              {"year":2025,"month":1,"date":16,"hours":12},{"year":2025,"month":1,"date":16,"hours":16},{"year":2025,"month":1,"date":16,"hours":20},
              {"year":2025,"month":1,"date":17,"hours":0},{"year":2025,"month":1,"date":17,"hours":4},{"year":2025,"month":1,"date":17,"hours":8},
              {"year":2025,"month":1,"date":17,"hours":12},{"year":2025,"month":1,"date":17,"hours":16},{"year":2025,"month":1,"date":17,"hours":20}
            ],
            "labels": false,
            "ticks": false,
            "domain": false,
            "grid": true,
            "gridColor": "#d8d8d8",
            "gridDash": [3, 3]
          }
        },
        "y": {
          "field": "low", "type": "quantitative",
          "scale": {"domain": [87737.7, 102359.1], "zero": false, "nice": false, "padding": 0},
          "axis": {
            "orient": "right",
            "title": null,
            "values": [88340.6, 88942.4, 89544.2, 90146.0, 90747.8, 91349.6, 91951.4, 92553.2, 93155.0, 93756.8, 94358.6, 94960.4, 95562.2, 96164.0, 96765.8, 97367.6, 97969.4, 98571.2, 99173.0, 99774.8, 100376.6, 100978.4, 101580.2, 102182.0],
            "format": ".2f",
            "labelFontSize": 9,
            "labelColor": "black",
            "labelPadding": 1.5,
            "labelOverlap": false,
            "tickSize": 4,
            "tickColor": "black",
            "domainColor": "black",
            "grid": true,
            "gridColor": "#d8d8d8",
            "gridDash": [3, 3]
          }
        },
        "y2": {"field": "high"}
      }
    },
    {
      "data": {"name": "bars"},
      "mark": {"type": "bar", "width": 4, "stroke": "black", "strokeWidth": 1, "clip": true},
      "encoding": {
        "x": {
          "field": "t", "type": "temporal",
          "axis": {
            "orient": "bottom",
            "title": null,
            "values": [
              {"year":2025,"month":1,"date":11,"hours":16},
              {"year":2025,"month":1,"date":12,"hours":0},{"year":2025,"month":1,"date":12,"hours":8},{"year":2025,"month":1,"date":12,"hours":16},
              {"year":2025,"month":1,"date":13,"hours":0},{"year":2025,"month":1,"date":13,"hours":8},{"year":2025,"month":1,"date":13,"hours":16},
              {"year":2025,"month":1,"date":14,"hours":0},{"year":2025,"month":1,"date":14,"hours":8},{"year":2025,"month":1,"date":14,"hours":16},
              {"year":2025,"month":1,"date":15,"hours":0},{"year":2025,"month":1,"date":15,"hours":8},{"year":2025,"month":1,"date":15,"hours":16},
              {"year":2025,"month":1,"date":16,"hours":0},{"year":2025,"month":1,"date":16,"hours":8},{"year":2025,"month":1,"date":16,"hours":16},
              {"year":2025,"month":1,"date":17,"hours":0},{"year":2025,"month":1,"date":17,"hours":8}
            ],
            "format": "%d %b %H:%M",
            "labelExpr": "datum.label == '11 Jan 16:00' ? '11 Jan 2025' : (datum.label == '15 Jan 00:00' ? '' : datum.label)",
            "labelAlign": "left",
            "labelPadding": 1,
            "labelFontSize": 9,
            "labelColor": "black",
            "labelOverlap": false,
            "labelFlush": false,
            "tickSize": 5,
            "tickColor": "black",
            "domainColor": "black",
            "grid": false
          }
        },
        "y": {"field": "open", "type": "quantitative", "axis": null},
        "y2": {"field": "close"},
        "fill": {"condition": {"test": "datum.close >= datum.open", "value": "white"}, "value": "black"}
      }
    },
    {
      "data": {"name": "bars"},
      "mark": {"type": "line", "color": "#ff0000", "strokeWidth": 2, "clip": true},
      "encoding": {
        "x": {"field": "t", "type": "temporal", "axis": null},
        "y": {"field": "tenkan", "type": "quantitative", "axis": null}
      }
    },
    {
      "data": {"name": "bars"},
      "mark": {"type": "line", "color": "#0000ff", "strokeWidth": 2, "clip": true},
      "encoding": {
        "x": {"field": "t", "type": "temporal", "axis": null},
        "y": {"field": "kijun", "type": "quantitative", "axis": null}
      }
    },
    {
      "data": {"name": "chikou"},
      "mark": {"type": "line", "color": "#32cd32", "strokeWidth": 2, "clip": true},
      "encoding": {
        "x": {"field": "t", "type": "temporal", "axis": null},
        "y": {"field": "chikou", "type": "quantitative", "axis": null}
      }
    },
    {
      "data": {"name": "cloud"},
      "mark": {"type": "area", "blend": "difference", "strokeWidth": 1, "opacity": 1, "interpolate": "linear"},
      "encoding": {
        "x": {"field": "t", "type": "temporal", "axis": null},
        "y": {"field": "spanA", "type": "quantitative", "axis": null},
        "y2": {"field": "spanB"},
        "detail": {"field": "seg", "type": "nominal"},
        "color": {"field": "kind", "type": "nominal", "scale": {"domain": ["up", "down"], "range": ["#0b5b9f", "#274027"]}, "legend": null},
        "stroke": {"field": "kind", "type": "nominal", "scale": {"domain": ["up", "down"], "range": ["#0b5b9f", "#274027"]}, "legend": null}
      }
    },
    {
      "data": {"values": [{"price": 101443.9}]},
      "mark": {"type": "rule", "color": "#cc0000", "strokeWidth": 1},
      "encoding": {
        "y": {"field": "price", "type": "quantitative", "axis": null}
      }
    },
    {
      "data": {"values": [{"t": "2025-01-16T23:00", "t2": "2025-01-17T05:00", "top": 99425, "bottom": 98604}]},
      "mark": {"type": "rect", "filled": false, "color": "#ff40ff", "strokeWidth": 4},
      "encoding": {
        "x": {"field": "t", "type": "temporal", "axis": null},
        "x2": {"field": "t2"},
        "y": {"field": "top", "type": "quantitative", "axis": null},
        "y2": {"field": "bottom"}
      }
    },
    {
      "data": {"values": [{"t": "2025-01-17T10:51", "price": 101210}]},
      "mark": {"type": "point", "shape": "M-0.41,-1L0.41,-1L0.41,0.3L0.76,0.3L0,1L-0.76,0.3L-0.41,0.3Z", "size": 376, "filled": true, "fill": "white", "stroke": "#ff0000", "strokeWidth": 1.2, "opacity": 1},
      "encoding": {
        "x": {"field": "t", "type": "temporal", "axis": null},
        "y": {"field": "price", "type": "quantitative", "axis": null}
      }
    },
    {
      "data": {"values": [{"t": "2025-01-15T03:00", "label": "2025.01.15 03:00"}]},
      "layer": [
        {
          "mark": {"type": "rule", "color": "#8a2be2", "strokeWidth": 4},
          "encoding": {"x": {"field": "t", "type": "temporal", "axis": null}}
        },
        {
          "mark": {"type": "tick", "orient": "horizontal", "thickness": 14, "color": "#8a2be2", "opacity": 1},
          "encoding": {
            "x": {"field": "t", "type": "temporal", "axis": null},
            "y": {"datum": 87540, "type": "quantitative", "axis": null},
            "size": {"value": 78}
          }
        },
        {
          "mark": {"type": "text", "color": "white", "font": "Liberation Sans", "fontSize": 9, "align": "center", "baseline": "middle"},
          "encoding": {
            "x": {"field": "t", "type": "temporal", "axis": null},
            "y": {"datum": 87540, "type": "quantitative", "axis": null},
            "text": {"field": "label"}
          }
        }
      ]
    },
    {
      "data": {"values": [{"price": 101443.9, "label": "101443.90"}]},
      "layer": [
        {
          "mark": {"type": "tick", "orient": "horizontal", "thickness": 9, "yOffset": 1, "color": "#cc0000", "opacity": 1},
          "encoding": {
            "x": {"datum": {"year": 2025, "month": 1, "date": 18, "hours": 3, "minutes": 15}, "type": "temporal", "axis": null},
            "y": {"field": "price", "type": "quantitative", "axis": null},
            "size": {"value": 50}
          }
        },
        {
          "mark": {"type": "text", "color": "white", "font": "Liberation Sans", "fontSize": 9, "align": "center", "baseline": "middle", "yOffset": 1},
          "encoding": {
            "x": {"datum": {"year": 2025, "month": 1, "date": 18, "hours": 3, "minutes": 15}, "type": "temporal", "axis": null},
            "y": {"field": "price", "type": "quantitative", "axis": null},
            "text": {"field": "label"}
          }
        }
      ]
    }
  ]
}
